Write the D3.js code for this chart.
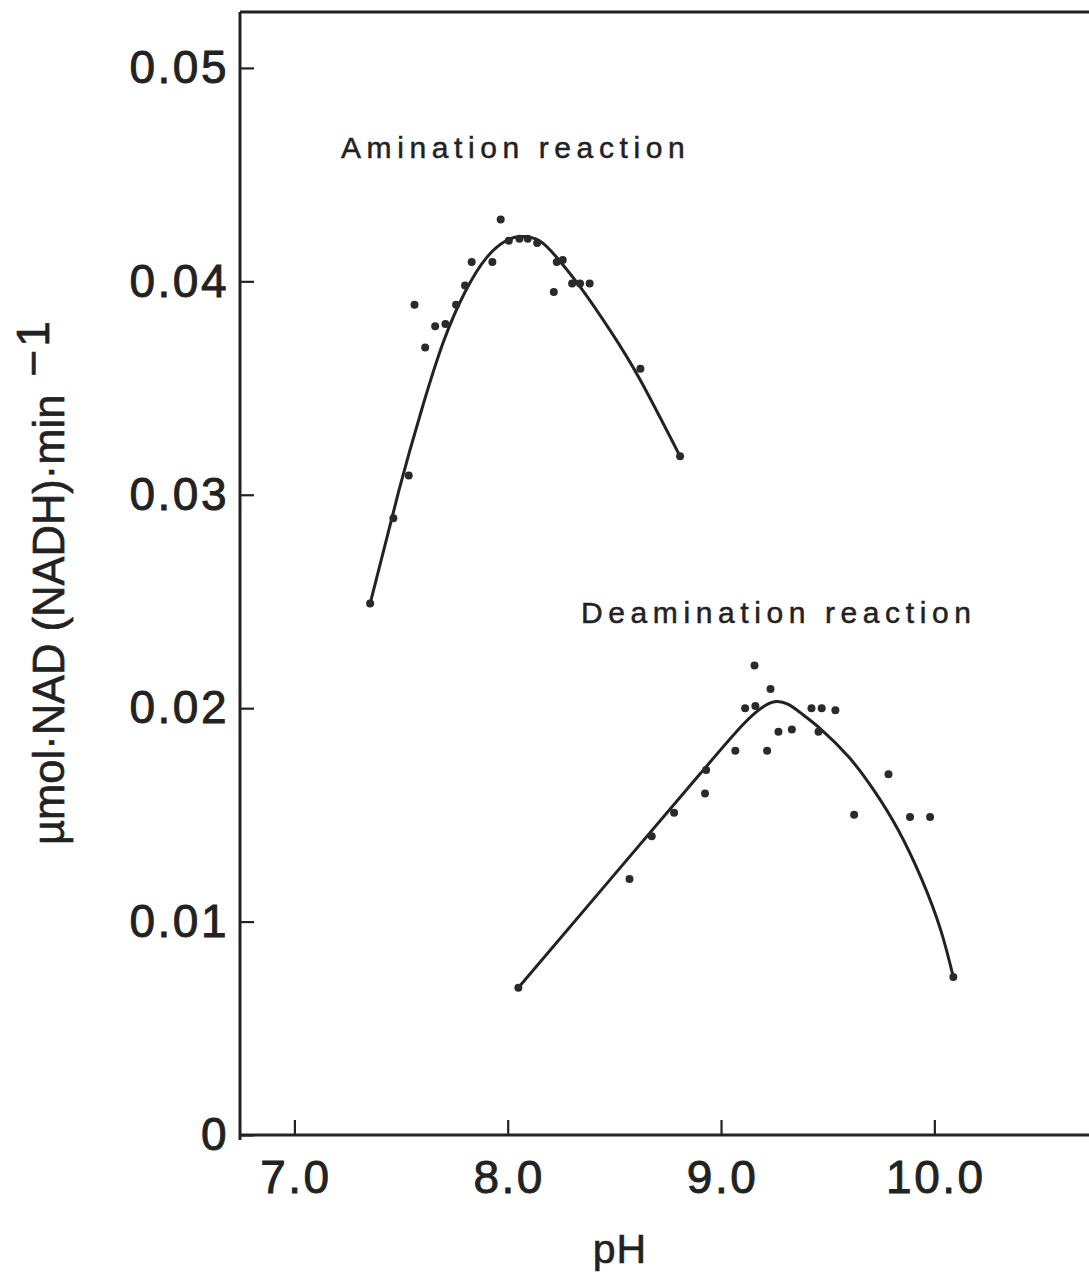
<!DOCTYPE html>
<html>
<head>
<meta charset="utf-8">
<script src="https://cdn.jsdelivr.net/npm/d3@7/dist/d3.min.js"></script>
<style>
  body { margin: 0; background: #fff; }
  svg text { font-family: "Liberation Sans", Arial, sans-serif; fill: #222; }
</style>
</head>
<body>
<div id="chart"></div>
<script>
var width = 1089;
var height = 1274;

// tick values
var xTicks = [7, 8, 9, 10];
var yTicks = [0, 0.01, 0.02, 0.03, 0.04, 0.05];

// amination reaction: measured points [pH, rate]
var aminPH   = [7.355, 7.464, 7.536, 7.563, 7.613, 7.66, 7.708, 7.758, 7.80, 7.831, 7.928, 7.967,
                8.005, 8.055, 8.094, 8.138, 8.216, 8.23, 8.258, 8.302, 8.339, 8.384, 8.622, 8.808];
var aminRate = [0.0249, 0.0289, 0.0309, 0.0389, 0.0369, 0.0379, 0.0380, 0.0389, 0.0398, 0.0409, 0.0409, 0.0429,
                0.0419, 0.0420, 0.0420, 0.0418, 0.0395, 0.0409, 0.0410, 0.0399, 0.0399, 0.0399, 0.0359, 0.0318];
// amination fitted curve
var aminCurvePH   = [7.355, 7.49, 7.60, 7.70, 7.80, 7.90, 7.992, 8.062, 8.149, 8.24, 8.35, 8.48, 8.62, 8.808];
var aminCurveRate = [0.0249, 0.0302, 0.0341, 0.0372, 0.0395, 0.0411, 0.0419, 0.0421, 0.0419, 0.0410, 0.0396, 0.0377, 0.0354, 0.0318];

// deamination reaction: measured points
var deamPH   = [8.05, 8.571, 8.675, 8.78, 8.925, 8.93, 9.067, 9.113, 9.157, 9.161, 9.216, 9.232, 9.269, 9.332,
                9.424, 9.457, 9.472, 9.536, 9.624, 9.785, 9.886, 9.98, 10.089];
var deamRate = [0.0069, 0.0120, 0.0140, 0.0151, 0.0160, 0.0171, 0.0180, 0.0200, 0.0220, 0.0201, 0.0180, 0.0209, 0.0189, 0.0190,
                0.0200, 0.0189, 0.0200, 0.0199, 0.0150, 0.0169, 0.0149, 0.0149, 0.0074];
// deamination fitted curve
var deamCurvePH   = [8.05, 8.50, 8.90, 9.10, 9.25, 9.37, 9.47, 9.60, 9.72, 9.83, 9.94, 10.03, 10.089];
var deamCurveRate = [0.0069, 0.0122, 0.0169, 0.0192, 0.0203, 0.0198, 0.0190, 0.0177, 0.0161, 0.0143, 0.0120, 0.0096, 0.0074];

var svg = d3.select("#chart").append("svg")
  .attr("width", width)
  .attr("height", height);

var x = d3.scaleLinear().domain([6.745, 10.725]).range([240, 1089]);
var y = d3.scaleLinear().domain([0, 0.05262]).range([1135, 12]);

// frame
var x0 = x.range()[0], x1 = x.range()[1];
var y0 = y.range()[0], y1 = y.range()[1];
svg.append("line").attr("x1", x0).attr("x2", x0).attr("y1", y1).attr("y2", y0 + 5)
  .attr("stroke", "#222").attr("stroke-width", 3);
svg.append("line").attr("x1", x0).attr("x2", x1).attr("y1", y0).attr("y2", y0)
  .attr("stroke", "#222").attr("stroke-width", 3);
svg.append("line").attr("x1", x0).attr("x2", x1).attr("y1", y1).attr("y2", y1)
  .attr("stroke", "#222").attr("stroke-width", 3);

// axes
var xAxis = svg.append("g")
  .attr("transform", "translate(0," + y0 + ")")
  .call(d3.axisBottom(x).tickValues(xTicks).tickFormat(d3.format(".1f")).tickSizeInner(-15).tickSizeOuter(0).tickPadding(25));
xAxis.select(".domain").remove();
xAxis.selectAll(".tick line").attr("stroke", "#222").attr("stroke-width", 2.2);
xAxis.selectAll(".tick text")
  .style("font-size", "46px").style("letter-spacing", "2.5px")
  .attr("dx", "1px")
  .attr("stroke", "#222").attr("stroke-width", 0.9)
  .attr("font-family", null);

var yAxis = svg.append("g")
  .attr("transform", "translate(" + x0 + ",0)")
  .call(d3.axisLeft(y).tickValues(yTicks)
    .tickFormat(function(d) { return d === 0 ? "0" : d3.format(".2f")(d); })
    .tickSizeInner(-14).tickSizeOuter(0).tickPadding(11));
yAxis.select(".domain").remove();
yAxis.selectAll(".tick line").attr("stroke", "#222").attr("stroke-width", 2.2);
yAxis.selectAll(".tick text")
  .style("font-size", "46px").style("letter-spacing", "2.5px")
  .attr("stroke", "#222").attr("stroke-width", 0.9)
  .attr("font-family", null);

// curves
var line = d3.line()
  .x(function(d) { return x(d[0]); })
  .y(function(d) { return y(d[1]); })
  .curve(d3.curveNatural);

var aminCurve = d3.zip(aminCurvePH, aminCurveRate);
var deamCurve = d3.zip(deamCurvePH, deamCurveRate);

svg.append("path").datum(aminCurve).attr("d", line)
  .attr("fill", "none").attr("stroke", "#222").attr("stroke-width", 3);
svg.append("path").datum(deamCurve).attr("d", line)
  .attr("fill", "none").attr("stroke", "#222").attr("stroke-width", 3);

// points
var pts = d3.zip(aminPH, aminRate).concat(d3.zip(deamPH, deamRate));
svg.append("g").selectAll("circle")
  .data(pts)
  .enter().append("circle")
    .attr("cx", function(d) { return x(d[0]); })
    .attr("cy", function(d) { return y(d[1]); })
    .attr("r", 4)
    .attr("fill", "#2a2a2a");

// annotations
svg.append("text").attr("x", 341).attr("y", 158)
  .style("font-size", "30px").style("letter-spacing", "5.6px")
  .attr("stroke", "#222").attr("stroke-width", 0.5)
  .text("Amination reaction");
svg.append("text").attr("x", 581).attr("y", 623)
  .style("font-size", "30px").style("letter-spacing", "5.6px")
  .attr("stroke", "#222").attr("stroke-width", 0.5)
  .text("Deamination reaction");

// axis titles
svg.append("text").attr("x", 620).attr("y", 1263)
  .attr("text-anchor", "middle")
  .style("font-size", "41px").style("letter-spacing", "1px")
  .attr("stroke", "#222").attr("stroke-width", 0.6)
  .text("pH");

var yTitle = svg.append("text")
  .attr("transform", "translate(64,845) rotate(-90)")
  .style("font-size", "43.5px")
  .attr("stroke", "#222").attr("stroke-width", 0.6);
yTitle.append("tspan").text("\u00b5mol\u00b7NAD (NADH)\u00b7min");
yTitle.append("tspan").attr("dx", "18").attr("dy", "-15")
  .style("font-size", "46px").style("letter-spacing", "3px").text("\u22121");
</script>
</body>
</html>
